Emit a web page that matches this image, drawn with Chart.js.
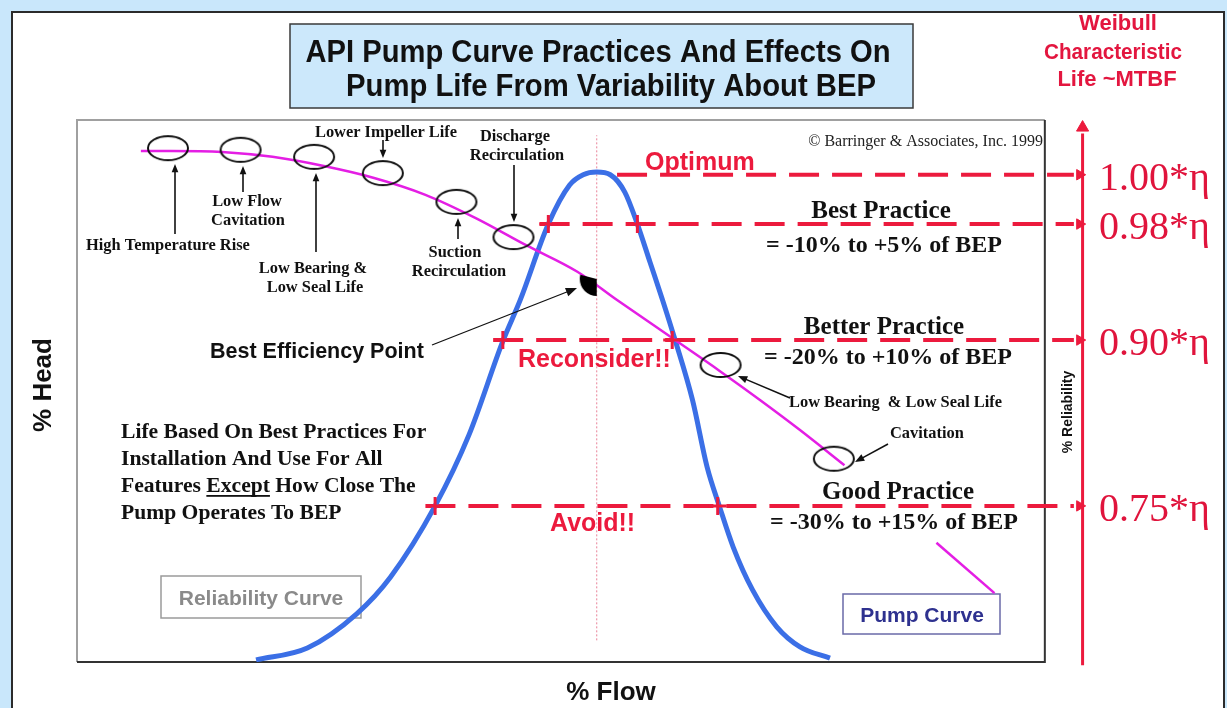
<!DOCTYPE html>
<html>
<head>
<meta charset="utf-8">
<title>API Pump Curve Practices</title>
<script src="https://cdn.jsdelivr.net/npm/chart.js@4.4.1/dist/chart.umd.min.js"></script>
<style>
  html, body { margin: 0; padding: 0; background: #c9e7fb; }
  canvas { display: block; }
</style>
</head>
<body>
<canvas id="pumpChart" width="1227" height="708"></canvas>
<script>
// reliability (blue bell) curve: % flow vs relative life
const reliabilityFlow = [18.5, 23.8, 28.9, 32.4, 37.0, 40.5, 44.0, 45.8, 48.7, 50.9, 52.3, 53.7, 55.1, 56.6, 57.9, 59.2, 60.5, 61.8, 63.6, 65.1, 66.4, 67.8, 69.8, 72.3, 74.7, 77.8]
const reliabilityLevel = [0.4, 2.6, 8.9, 15.7, 28.8, 41.9, 59.2, 66.8, 80.8, 88.0, 89.9, 90.4, 89.9, 86.7, 80.8, 73.8, 66.8, 59.4, 48.3, 36.0, 28.6, 21.2, 13.3, 6.5, 2.8, 0.7]

// pump (magenta) curve: % flow vs % head
const pumpFlow = [6.6, 9.7, 15.0, 20.2, 25.5, 30.7, 36.0, 41.2, 46.4, 51.7, 55.8, 61.8, 66.4, 70.6, 74.7, 79.3]
const pumpHead = [94.3, 94.3, 94.1, 93.2, 91.5, 89.3, 86.2, 81.9, 76.9, 72.0, 66.8, 59.4, 53.7, 48.3, 42.8, 36.3]
const pumpLeaderFlow = [88.8, 94.8]
const pumpLeaderHead = [22.0, 12.7]

// best efficiency point
const bepFlow = 53.7
const bepHead = 70.3

// practice bands (dashed red lines) and the life factor they map to
const practiceNames = ['Optimum', 'Best Practice', 'Better Practice', 'Good Practice']
const practiceRanges = ['', '= -10% to +5% of BEP', '= -20% to +10% of BEP', '= -30% to +15% of BEP']
const practiceLevel = [89.9, 80.8, 59.4, 28.8]
const practiceStart = [55.8, 47.8, 43.0, 36.0]
const lifeFactors = ['1.00*\u03b7', '0.98*\u03b7', '0.90*\u03b7', '0.75*\u03b7']
const limitLow = [48.7, 44.0, 37.0]
const limitHigh = [57.9, 61.5, 66.2]
const limitLevel = [80.8, 59.4, 28.8]

// operating problems circled on the pump curve
const featureFlow = [9.4, 16.9, 24.5, 31.6, 39.2, 45.1, 66.5, 78.2]
const featureHead = [94.8, 94.5, 93.2, 90.2, 84.9, 78.4, 54.8, 37.5]

const lineEnd = 103.0
const arrowAt = 103.6
const reliabilityAxis = 103.9

const RED = '#ec1a3d'
const BLUE = '#3b6fe6'
const MAGENTA = '#e41ee4'
const SANS = '"Liberation Sans", Arial, sans-serif'
const SERIF = '"Liberation Serif", "Times New Roman", serif'

const zip = (xs, ys) => xs.map((x, i) => ({x: x, y: ys[i]}))

const makeRing = () => {
  const c = document.createElement('canvas')
  c.width = 44
  c.height = 28
  const g = c.getContext('2d')
  g.strokeStyle = '#111'
  g.lineWidth = 2
  g.beginPath()
  g.ellipse(22, 14, 20, 12, 0, 0, Math.PI * 2)
  g.stroke()
  return c
}

const makeWedge = () => {
  const c = document.createElement('canvas')
  c.width = 40
  c.height = 40
  const g = c.getContext('2d')
  g.fillStyle = '#000'
  g.beginPath()
  g.moveTo(20, 18)
  g.arc(20, 18, 17, Math.PI * 0.5, Math.PI * 1.08)
  g.closePath()
  g.fill()
  return c
}

const practiceSets = practiceLevel.map((lvl, i) => ({
  label: practiceNames[i],
  data: [{x: practiceStart[i], y: lvl}, {x: lineEnd, y: lvl}],
  showLine: true,
  borderColor: RED,
  borderWidth: 4,
  borderDash: [30, 13],
  pointRadius: 0,
  clip: false,
  order: 5
}))

const text = (ctx, str, x, y, font, color, align, maxWidth) => {
  ctx.font = font
  ctx.fillStyle = color
  ctx.textAlign = align || 'left'
  if (maxWidth) ctx.fillText(str, x, y, maxWidth)
  else ctx.fillText(str, x, y)
}

const arrow = (ctx, x1, y1, x2, y2, size) => {
  const a = Math.atan2(y2 - y1, x2 - x1)
  ctx.beginPath()
  ctx.moveTo(x1, y1)
  ctx.lineTo(x2 - Math.cos(a) * size * 0.8, y2 - Math.sin(a) * size * 0.8)
  ctx.stroke()
  ctx.beginPath()
  ctx.moveTo(x2, y2)
  ctx.lineTo(x2 - size * Math.cos(a - 0.38), y2 - size * Math.sin(a - 0.38))
  ctx.lineTo(x2 - size * Math.cos(a + 0.38), y2 - size * Math.sin(a + 0.38))
  ctx.closePath()
  ctx.fill()
}

const pageDecor = {
  id: 'pageDecor',
  beforeDraw(chart) {
    const {ctx} = chart
    const x = chart.scales.x
    const y = chart.scales.y
    ctx.save()
    ctx.fillStyle = '#c9e7fb'
    ctx.fillRect(0, 0, chart.width, chart.height)
    ctx.fillStyle = '#ffffff'
    ctx.fillRect(12, 12, 1212, 710)
    ctx.strokeStyle = '#2b2b2b'
    ctx.lineWidth = 2
    ctx.strokeRect(12, 12, 1212, 720)

    // title box
    ctx.fillStyle = '#cce8fb'
    ctx.fillRect(290, 24, 623, 84)
    ctx.strokeStyle = '#3a3a3a'
    ctx.lineWidth = 1.5
    ctx.strokeRect(290, 24, 623, 84)

    // plot frame
    const l = x.getPixelForValue(0)
    const r = x.getPixelForValue(100)
    const t = y.getPixelForValue(100)
    const b = y.getPixelForValue(0)
    ctx.lineWidth = 2
    ctx.strokeStyle = '#a0a0a0'
    ctx.beginPath()
    ctx.moveTo(l, b)
    ctx.lineTo(l, t)
    ctx.lineTo(r, t)
    ctx.stroke()
    ctx.strokeStyle = '#333'
    ctx.beginPath()
    ctx.moveTo(r, t)
    ctx.lineTo(r, b)
    ctx.lineTo(l, b)
    ctx.stroke()

    // legend boxes
    ctx.lineWidth = 1.5
    ctx.strokeStyle = '#9a9a9a'
    ctx.strokeRect(161, 576, 200, 42)
    ctx.strokeStyle = '#6a6aa8'
    ctx.strokeRect(843, 594, 157, 40)
    ctx.restore()
  },
  afterDraw(chart) {
    const {ctx} = chart
    const y = chart.scales.y
    ctx.save()
    ctx.textBaseline = 'alphabetic'

    // title
    text(ctx, 'API Pump Curve Practices And Effects On', 598, 62, 'bold 31px ' + SANS, '#111', 'center', 585)
    text(ctx, 'Pump Life From Variability About BEP', 611, 96, 'bold 31px ' + SANS, '#111', 'center', 530)

    // right axis caption
    text(ctx, 'Weibull', 1118, 30, 'bold 22px ' + SANS, '#e3163f', 'center')
    text(ctx, 'Characteristic', 1113, 59, 'bold 22px ' + SANS, '#e3163f', 'center', 138)
    text(ctx, 'Life ~MTBF', 1117, 86, 'bold 22px ' + SANS, '#e3163f', 'center')

    // life factors
    practiceLevel.forEach((lvl, i) => {
      const py = y.getPixelForValue(lvl)
      text(ctx, lifeFactors[i], 1099, py + 15, '40px ' + SERIF, '#e0143c', 'left')
    })

    // axis titles
    ctx.save()
    ctx.translate(44, 385)
    ctx.rotate(-Math.PI / 2)
    ctx.textBaseline = 'middle'
    text(ctx, '% Head', 0, 0, 'bold 26px ' + SANS, '#111', 'center')
    ctx.restore()
    ctx.save()
    ctx.translate(1068, 412)
    ctx.rotate(-Math.PI / 2)
    ctx.textBaseline = 'middle'
    text(ctx, '% Reliability', 0, 0, 'bold 14px ' + SANS, '#111', 'center')
    ctx.restore()
    text(ctx, '% Flow', 611, 700, 'bold 26px ' + SANS, '#111', 'center')

    text(ctx, '\u00a9 Barringer & Associates, Inc. 1999', 1043, 146, '16px ' + SERIF, '#222', 'right')

    // practice headings
    const headX = [0, 881, 884, 898]
    const rangeX = [0, 884, 888, 894]
    const headY = [0, 218, 334, 499]
    const rangeY = [0, 252, 364, 529]
    for (let i = 1; i < practiceNames.length; i++) {
      text(ctx, practiceNames[i], headX[i], headY[i], 'bold 25px ' + SERIF, '#111', 'center')
      text(ctx, practiceRanges[i], rangeX[i], rangeY[i], 'bold 24px ' + SERIF, '#111', 'center')
    }
    text(ctx, 'Optimum', 645, 170, 'bold 25px ' + SANS, RED, 'left')
    text(ctx, 'Reconsider!!', 518, 367, 'bold 25px ' + SANS, RED, 'left', 154)
    text(ctx, 'Avoid!!', 550, 531, 'bold 25px ' + SANS, RED, 'left')

    // feature labels
    const small = 'bold 16.4px ' + SERIF
    text(ctx, 'High Temperature Rise', 86, 250, small, '#111', 'left')
    text(ctx, 'Low Flow', 247, 206, small, '#111', 'center')
    text(ctx, 'Cavitation', 248, 225, small, '#111', 'center')
    text(ctx, 'Low Bearing &', 313, 273, small, '#111', 'center')
    text(ctx, 'Low Seal Life', 315, 292, small, '#111', 'center')
    text(ctx, 'Lower Impeller Life', 386, 137, small, '#111', 'center')
    text(ctx, 'Suction', 455, 257, small, '#111', 'center')
    text(ctx, 'Recirculation', 459, 276, small, '#111', 'center')
    text(ctx, 'Discharge', 515, 141, small, '#111', 'center')
    text(ctx, 'Recirculation', 517, 160, small, '#111', 'center')
    text(ctx, 'Low Bearing  & Low Seal Life', 789, 407, small, '#111', 'left')
    text(ctx, 'Cavitation', 890, 438, small, '#111', 'left')

    ctx.strokeStyle = '#111'
    ctx.fillStyle = '#111'
    ctx.lineWidth = 1.6
    arrow(ctx, 175, 234, 175, 164, 9)
    arrow(ctx, 243, 192, 243, 166, 9)
    arrow(ctx, 316, 252, 316, 173, 9)
    arrow(ctx, 383, 140, 383, 158, 9)
    arrow(ctx, 458, 239, 458, 218, 9)
    arrow(ctx, 514, 165, 514, 222, 9)
    arrow(ctx, 790, 398, 738, 376, 10)
    arrow(ctx, 888, 444, 855, 462, 10)
    ctx.lineWidth = 1.3
    arrow(ctx, 432, 345, 577, 288, 12)

    text(ctx, 'Best Efficiency Point', 210, 358, 'bold 21.5px ' + SANS, '#111', 'left')

    // note
    const note = 'bold 21.6px ' + SERIF
    text(ctx, 'Life Based On Best Practices For', 121, 438, note, '#111', 'left')
    text(ctx, 'Installation And Use For All', 121, 465, note, '#111', 'left')
    ctx.font = note
    const w1 = ctx.measureText('Features ').width
    const w2 = ctx.measureText('Except').width
    text(ctx, 'Features ', 121, 492, note, '#111', 'left')
    text(ctx, 'Except', 121 + w1, 492, note, '#111', 'left')
    text(ctx, ' How Close The', 121 + w1 + w2, 492, note, '#111', 'left')
    ctx.fillRect(121 + w1, 495, w2, 1.8)
    text(ctx, 'Pump Operates To BEP', 121, 519, note, '#111', 'left')

    // legend labels
    text(ctx, 'Reliability Curve', 261, 605, 'bold 21px ' + SANS, '#8a8a8a', 'center')
    text(ctx, 'Pump Curve', 922, 622, 'bold 21px ' + SANS, '#2e318f', 'center')
    ctx.restore()
  }
}

new Chart(document.getElementById('pumpChart'), {
  type: 'scatter',
  data: {
    datasets: [
      {
        label: 'Limits',
        data: zip(limitLow, limitLevel).concat(zip(limitHigh, limitLevel)),
        pointStyle: 'cross',
        pointRadius: 9,
        pointBorderWidth: 3,
        pointBorderColor: RED,
        order: 0
      },
      {
        label: 'Problems',
        data: zip(featureFlow, featureHead),
        pointStyle: makeRing(),
        pointRadius: 5,
        order: 1
      },
      {
        label: 'BEP',
        data: [{x: bepFlow, y: bepHead}],
        pointStyle: makeWedge(),
        pointRadius: 5,
        order: 1
      },
      {
        label: 'Pump Curve',
        data: zip(pumpFlow, pumpHead),
        showLine: true,
        borderColor: MAGENTA,
        borderWidth: 2.5,
        pointRadius: 0,
        cubicInterpolationMode: 'monotone',
        order: 2
      },
      {
        label: 'Pump Leader',
        data: zip(pumpLeaderFlow, pumpLeaderHead),
        showLine: true,
        borderColor: MAGENTA,
        borderWidth: 2.5,
        pointRadius: 0,
        order: 2
      },
      {
        label: 'Reliability Curve',
        data: zip(reliabilityFlow, reliabilityLevel),
        showLine: true,
        borderColor: BLUE,
        borderWidth: 5,
        pointRadius: 0,
        cubicInterpolationMode: 'monotone',
        order: 3
      },
      {
        label: 'BEP line',
        data: [{x: bepFlow, y: 4}, {x: bepFlow, y: 97.2}],
        showLine: true,
        borderColor: 'rgba(225, 90, 120, 0.75)',
        borderWidth: 1,
        borderDash: [2, 2],
        pointRadius: 0,
        order: 6
      },
      ...practiceSets,
      {
        label: 'Arrow heads',
        data: practiceLevel.map(lvl => ({x: arrowAt, y: lvl})),
        pointStyle: 'triangle',
        rotation: 90,
        pointRadius: 6,
        pointBackgroundColor: RED,
        pointBorderColor: RED,
        order: 4
      },
      {
        label: 'Reliability axis',
        data: [{x: reliabilityAxis, y: -0.6}, {x: reliabilityAxis, y: 97.5}],
        showLine: true,
        borderColor: RED,
        borderWidth: 3,
        pointRadius: 0,
        clip: false,
        order: 4
      },
      {
        label: 'Reliability axis head',
        data: [{x: reliabilityAxis, y: 98.6}],
        pointStyle: 'triangle',
        pointRadius: 7,
        pointBackgroundColor: RED,
        pointBorderColor: RED,
        order: 4
      }
    ]
  },
  options: {
    responsive: false,
    animation: false,
    events: [],
    layout: {padding: {left: 77, right: 127, top: 120, bottom: 46}},
    scales: {
      x: {type: 'linear', min: 0, max: 105.7, display: false},
      y: {type: 'linear', min: 0, max: 100, display: false}
    },
    plugins: {
      legend: {display: false},
      tooltip: {enabled: false}
    }
  },
  plugins: [pageDecor]
})
</script>
</body>
</html>
